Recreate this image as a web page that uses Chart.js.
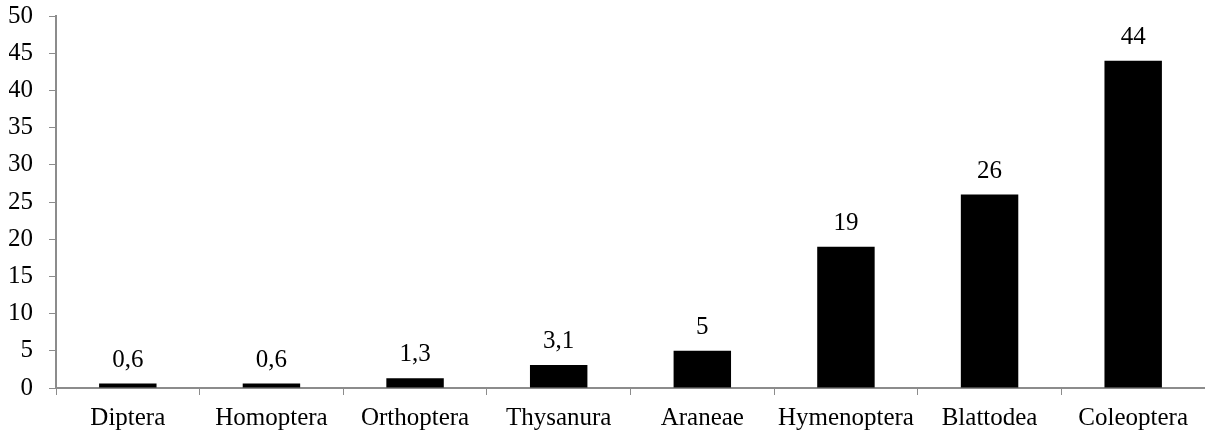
<!DOCTYPE html>
<html>
<head>
<meta charset="utf-8">
<script src="https://cdn.jsdelivr.net/npm/chart.js@4"></script>
<style>
    html, body { margin: 0; padding: 0; background: #fff; }
    #wrap { width: 1205px; height: 432px; }
</style>
</head>
<body>
<div id="wrap"><canvas id="barChart" width="1205" height="432"></canvas></div>
<script>
const categories = ['Diptera', 'Homoptera', 'Orthoptera', 'Thysanura', 'Araneae', 'Hymenoptera', 'Blattodea', 'Coleoptera'];
const values = [0.6, 0.6, 1.3, 3.1, 5, 19, 26, 44];
const yTicks = [0, 5, 10, 15, 20, 25, 30, 35, 40, 45, 50];

const fontFamily = '"Liberation Serif", "DejaVu Serif", serif';
const fontSize = 25;
const axisColor = '#8c8c8c';

// value labels above each bar, decimal comma
const valueLabels = {
    id: 'valueLabels',
    afterDatasetsDraw(chart) {
        const ctx = chart.ctx;
        const meta = chart.getDatasetMeta(0);
        ctx.save();
        ctx.font = fontSize + 'px ' + fontFamily;
        ctx.fillStyle = '#000';
        ctx.textAlign = 'center';
        ctx.textBaseline = 'alphabetic';
        meta.data.forEach((bar, i) => {
            ctx.fillText(String(values[i]).replace('.', ','), bar.x, bar.y - 17);
        });
        ctx.restore();
    }
};

// drop the label overflow padding so the plot box lines up with the original
function noScalePadding(axis) {
    axis.paddingTop = 0;
    axis.paddingBottom = 0;
    axis.paddingLeft = 0;
    axis.paddingRight = 0;
}

const ctx = document.getElementById('barChart').getContext('2d');
new Chart(ctx, {
    type: 'bar',
    data: {
        labels: categories,
        datasets: [{
            data: values,
            backgroundColor: '#000',
            borderWidth: 0,
            categoryPercentage: 1,
            barPercentage: 0.4
        }]
    },
    options: {
        responsive: false,
        animation: false,
        layout: { padding: { left: 9, top: 16, right: 0, bottom: 0 } },
        plugins: {
            legend: { display: false },
            tooltip: { enabled: false }
        },
        scales: {
            x: {
                offset: true,
                afterFit: axis => {
                    noScalePadding(axis);
                    axis.height = 44;
                },
                grid: {
                    offset: true,
                    drawOnChartArea: false,
                    drawTicks: true,
                    tickLength: 7,
                    color: axisColor
                },
                border: { color: axisColor, width: 2 },
                ticks: {
                    color: '#000',
                    font: { family: fontFamily, size: fontSize },
                    padding: 8,
                    maxRotation: 0,
                    autoSkip: false
                }
            },
            y: {
                min: 0,
                max: 50,
                afterBuildTicks: axis => {
                    axis.ticks = yTicks.map(v => ({ value: v }));
                },
                afterFit: axis => {
                    noScalePadding(axis);
                    axis.width = 47;
                },
                grid: {
                    drawOnChartArea: false,
                    drawTicks: true,
                    tickLength: 7,
                    color: axisColor
                },
                border: { color: axisColor, width: 2 },
                ticks: {
                    color: '#000',
                    font: { family: fontFamily, size: fontSize },
                    padding: 16
                }
            }
        }
    },
    plugins: [valueLabels]
});
</script>
</body>
</html>
